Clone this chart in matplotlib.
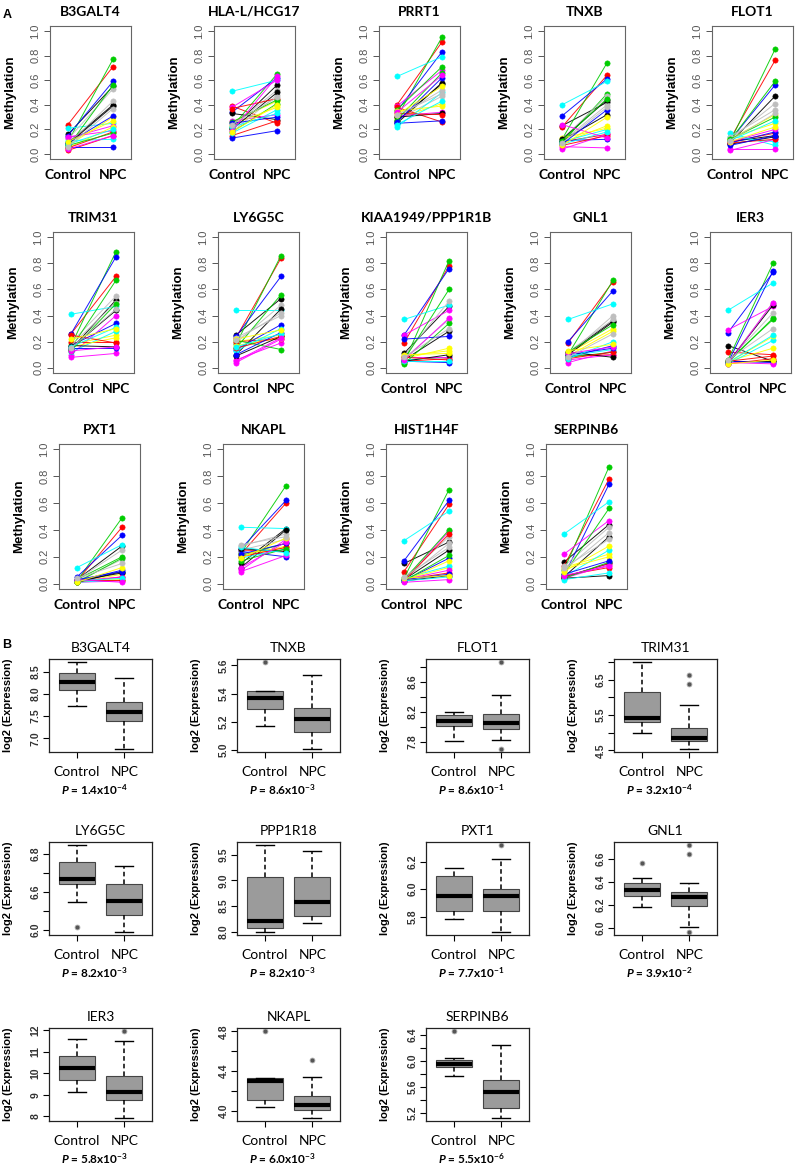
import matplotlib
matplotlib.use('Agg')
import matplotlib.pyplot as plt

plt.rcParams['mathtext.fontset'] = 'custom'
plt.rcParams['mathtext.rm'] = 'Lato:bold'
plt.rcParams['mathtext.it'] = 'Lato:italic:bold'

W, H = 796, 1164

# R default palette, cycled over the 24 samples
pal = ['black', '#FF0000', '#00CD00', '#0000FF', '#00FFFF', '#FF00FF', '#FFFF00', '#BEBEBE']
groups = ['Control', 'NPC']

# ---- panel A: methylation per sample (control, NPC) ----
b3galt4_ctrl = [0.16, 0.24, 0.10, 0.15, 0.21, 0.13, 0.07, 0.12, 0.09, 0.03, 0.06, 0.06, 0.11, 0.14, 0.05, 0.08, 0.08, 0.05, 0.07, 0.09, 0.08, 0.04, 0.10, 0.06]
b3galt4_npc = [0.55, 0.71, 0.77, 0.59, 0.25, 0.23, 0.30, 0.53, 0.40, 0.15, 0.56, 0.06, 0.12, 0.19, 0.22, 0.43, 0.39, 0.18, 0.17, 0.31, 0.20, 0.15, 0.27, 0.37]
hla_ctrl = [0.21, 0.39, 0.22, 0.34, 0.51, 0.38, 0.26, 0.22, 0.33, 0.15, 0.18, 0.13, 0.17, 0.27, 0.24, 0.18, 0.20, 0.37, 0.26, 0.25, 0.22, 0.19, 0.18, 0.24]
hla_npc = [0.56, 0.25, 0.65, 0.62, 0.60, 0.60, 0.43, 0.52, 0.28, 0.27, 0.41, 0.19, 0.36, 0.32, 0.38, 0.48, 0.50, 0.45, 0.44, 0.30, 0.33, 0.63, 0.40, 0.46]
prrt1_ctrl = [0.25, 0.40, 0.30, 0.35, 0.63, 0.39, 0.29, 0.28, 0.27, 0.38, 0.36, 0.25, 0.22, 0.31, 0.35, 0.30, 0.30, 0.33, 0.28, 0.26, 0.24, 0.34, 0.32, 0.32]
prrt1_npc = [0.58, 0.91, 0.95, 0.83, 0.79, 0.68, 0.41, 0.47, 0.57, 0.26, 0.71, 0.27, 0.50, 0.34, 0.39, 0.52, 0.33, 0.32, 0.66, 0.62, 0.43, 0.64, 0.55, 0.49]
tnxb_ctrl = [0.23, 0.22, 0.12, 0.31, 0.40, 0.06, 0.09, 0.10, 0.11, 0.10, 0.09, 0.11, 0.10, 0.04, 0.13, 0.12, 0.12, 0.07, 0.11, 0.08, 0.08, 0.24, 0.07, 0.09]
tnxb_npc = [0.42, 0.64, 0.74, 0.61, 0.59, 0.05, 0.23, 0.40, 0.32, 0.16, 0.49, 0.12, 0.20, 0.16, 0.21, 0.47, 0.44, 0.15, 0.45, 0.36, 0.18, 0.13, 0.30, 0.38]
flot1_ctrl = [0.09, 0.12, 0.10, 0.11, 0.17, 0.04, 0.13, 0.12, 0.10, 0.10, 0.11, 0.09, 0.14, 0.03, 0.12, 0.14, 0.08, 0.09, 0.12, 0.07, 0.11, 0.10, 0.10, 0.11]
flot1_npc = [0.47, 0.76, 0.85, 0.56, 0.07, 0.04, 0.25, 0.41, 0.15, 0.17, 0.59, 0.18, 0.10, 0.12, 0.32, 0.36, 0.14, 0.12, 0.30, 0.15, 0.27, 0.20, 0.22, 0.33]
trim31_ctrl = [0.14, 0.26, 0.17, 0.26, 0.41, 0.10, 0.18, 0.19, 0.15, 0.20, 0.15, 0.17, 0.12, 0.08, 0.16, 0.17, 0.17, 0.25, 0.13, 0.15, 0.16, 0.13, 0.22, 0.15]
trim31_npc = [0.52, 0.70, 0.89, 0.85, 0.47, 0.40, 0.25, 0.55, 0.44, 0.20, 0.67, 0.34, 0.28, 0.11, 0.23, 0.50, 0.16, 0.19, 0.49, 0.15, 0.31, 0.16, 0.30, 0.45]
ly6g5c_ctrl = [0.25, 0.23, 0.18, 0.24, 0.44, 0.06, 0.20, 0.19, 0.10, 0.20, 0.15, 0.14, 0.13, 0.04, 0.17, 0.23, 0.09, 0.15, 0.21, 0.10, 0.16, 0.05, 0.22, 0.21]
ly6g5c_npc = [0.53, 0.84, 0.86, 0.70, 0.44, 0.19, 0.25, 0.48, 0.45, 0.22, 0.56, 0.33, 0.30, 0.22, 0.23, 0.40, 0.24, 0.24, 0.14, 0.27, 0.26, 0.23, 0.29, 0.42]
kiaa_ctrl = [0.11, 0.19, 0.04, 0.25, 0.37, 0.25, 0.07, 0.09, 0.06, 0.05, 0.06, 0.05, 0.06, 0.08, 0.09, 0.07, 0.05, 0.08, 0.03, 0.22, 0.05, 0.06, 0.10, 0.08]
kiaa_npc = [0.47, 0.78, 0.82, 0.76, 0.48, 0.44, 0.15, 0.51, 0.28, 0.07, 0.60, 0.04, 0.08, 0.08, 0.13, 0.37, 0.10, 0.06, 0.34, 0.24, 0.05, 0.38, 0.11, 0.30]
gnl1_ctrl = [0.11, 0.19, 0.10, 0.20, 0.37, 0.04, 0.11, 0.10, 0.10, 0.09, 0.08, 0.08, 0.09, 0.06, 0.09, 0.12, 0.12, 0.07, 0.12, 0.10, 0.07, 0.11, 0.13, 0.08]
gnl1_npc = [0.36, 0.66, 0.67, 0.59, 0.49, 0.13, 0.30, 0.40, 0.35, 0.10, 0.12, 0.17, 0.14, 0.10, 0.28, 0.37, 0.08, 0.12, 0.33, 0.15, 0.20, 0.16, 0.18, 0.26]
ier3_ctrl = [0.17, 0.12, 0.06, 0.27, 0.44, 0.29, 0.05, 0.04, 0.05, 0.03, 0.04, 0.05, 0.03, 0.04, 0.04, 0.05, 0.04, 0.05, 0.05, 0.04, 0.04, 0.03, 0.03, 0.06]
ier3_npc = [0.05, 0.10, 0.80, 0.73, 0.65, 0.47, 0.15, 0.50, 0.05, 0.07, 0.38, 0.04, 0.21, 0.03, 0.24, 0.42, 0.48, 0.09, 0.37, 0.74, 0.25, 0.50, 0.06, 0.30]
pxt1_ctrl = [0.03, 0.02, 0.02, 0.05, 0.12, 0.01, 0.01, 0.03, 0.02, 0.01, 0.03, 0.02, 0.01, 0.02, 0.02, 0.02, 0.01, 0.03, 0.01, 0.03, 0.02, 0.03, 0.01, 0.04]
pxt1_npc = [0.28, 0.42, 0.49, 0.36, 0.29, 0.02, 0.07, 0.25, 0.08, 0.05, 0.20, 0.10, 0.03, 0.05, 0.03, 0.18, 0.09, 0.03, 0.19, 0.09, 0.04, 0.01, 0.12, 0.15]
nkapl_ctrl = [0.15, 0.22, 0.23, 0.26, 0.42, 0.10, 0.20, 0.28, 0.12, 0.25, 0.21, 0.24, 0.19, 0.09, 0.22, 0.25, 0.26, 0.20, 0.17, 0.22, 0.27, 0.12, 0.19, 0.29]
nkapl_npc = [0.41, 0.60, 0.73, 0.62, 0.41, 0.33, 0.28, 0.37, 0.40, 0.24, 0.30, 0.20, 0.26, 0.21, 0.27, 0.33, 0.24, 0.27, 0.26, 0.30, 0.23, 0.31, 0.34, 0.35]
hist1h4f_ctrl = [0.15, 0.09, 0.04, 0.17, 0.32, 0.02, 0.03, 0.04, 0.03, 0.03, 0.03, 0.02, 0.04, 0.03, 0.02, 0.03, 0.02, 0.02, 0.02, 0.03, 0.02, 0.01, 0.04, 0.05]
hist1h4f_npc = [0.31, 0.59, 0.70, 0.62, 0.54, 0.39, 0.12, 0.35, 0.25, 0.08, 0.40, 0.19, 0.13, 0.10, 0.17, 0.30, 0.06, 0.37, 0.21, 0.07, 0.05, 0.03, 0.06, 0.27]
serpinb6_ctrl = [0.16, 0.13, 0.10, 0.06, 0.37, 0.22, 0.12, 0.13, 0.05, 0.06, 0.07, 0.05, 0.05, 0.04, 0.11, 0.10, 0.04, 0.05, 0.04, 0.07, 0.03, 0.06, 0.09, 0.12]
serpinb6_npc = [0.44, 0.78, 0.87, 0.74, 0.61, 0.47, 0.22, 0.42, 0.35, 0.12, 0.56, 0.15, 0.25, 0.14, 0.20, 0.38, 0.06, 0.15, 0.16, 0.17, 0.08, 0.13, 0.28, 0.33]

meth_panels = [
    ('B3GALT4', b3galt4_ctrl, b3galt4_npc),
    ('HLA-L/HCG17', hla_ctrl, hla_npc),
    ('PRRT1', prrt1_ctrl, prrt1_npc),
    ('TNXB', tnxb_ctrl, tnxb_npc),
    ('FLOT1', flot1_ctrl, flot1_npc),
    ('TRIM31', trim31_ctrl, trim31_npc),
    ('LY6G5C', ly6g5c_ctrl, ly6g5c_npc),
    ('KIAA1949/PPP1R1B', kiaa_ctrl, kiaa_npc),
    ('GNL1', gnl1_ctrl, gnl1_npc),
    ('IER3', ier3_ctrl, ier3_npc),
    ('PXT1', pxt1_ctrl, pxt1_npc),
    ('NKAPL', nkapl_ctrl, nkapl_npc),
    ('HIST1H4F', hist1h4f_ctrl, hist1h4f_npc),
    ('SERPINB6', serpinb6_ctrl, serpinb6_npc),
]

# ---- panel B: expression boxplots [whislo, q1, med, q3, whishi] + outliers ----
expr_genes = ['B3GALT4', 'TNXB', 'FLOT1', 'TRIM31', 'LY6G5C', 'PPP1R18',
              'PXT1', 'GNL1', 'IER3', 'NKAPL', 'SERPINB6']
expr_ctrl = [
    [7.72, 8.08, 8.27, 8.48, 8.71],
    [5.17, 5.29, 5.37, 5.415, 5.42],
    [7.81, 8.015, 8.08, 8.16, 8.20],
    [5.00, 5.30, 5.41, 6.14, 6.99],
    [6.29, 6.48, 6.54, 6.71, 6.89],
    [8.00, 8.07, 8.21, 9.06, 9.68],
    [5.78, 5.84, 5.95, 6.10, 6.156],
    [6.18, 6.28, 6.33, 6.39, 6.43],
    [9.12, 9.67, 10.25, 10.79, 11.57],
    [4.04, 4.105, 4.295, 4.33, 4.33],
    [5.76, 5.90, 5.95, 6.01, 6.04],
]
expr_npc = [
    [6.77, 7.40, 7.60, 7.83, 8.37],
    [5.01, 5.13, 5.22, 5.30, 5.53],
    [7.82, 7.97, 8.05, 8.175, 8.43],
    [4.55, 4.75, 4.84, 5.14, 5.78],
    [5.98, 6.15, 6.30, 6.48, 6.67],
    [8.16, 8.31, 8.57, 9.06, 9.58],
    [5.69, 5.84, 5.95, 6.00, 6.22],
    [6.01, 6.19, 6.265, 6.31, 6.39],
    [7.95, 8.76, 9.13, 9.86, 11.52],
    [3.93, 4.01, 4.06, 4.15, 4.34],
    [5.13, 5.27, 5.52, 5.70, 6.24],
]
out_ctrl = [[], [5.62], [], [], [6.03], [], [], [6.565], [], [4.80], [6.45]]
out_npc = [[], [], [8.86, 7.71], [6.64, 6.39], [], [], [6.32], [6.715, 6.643, 5.97], [11.94], [4.51], []]
p_values = ['1.4x10$^{-4}$', '8.6x10$^{-3}$', '8.6x10$^{-1}$', '3.2x10$^{-4}$',
            '8.2x10$^{-3}$', '8.2x10$^{-3}$', '7.7x10$^{-1}$', '3.9x10$^{-2}$',
            '5.8x10$^{-3}$', '6.0x10$^{-3}$', '5.5x10$^{-6}$']
y_ticks = [
    ([7.0, 7.5, 8.0, 8.5], ['7.0', '7.5', '8.0', '8.5']),
    ([5.0, 5.2, 5.4, 5.6], ['5.0', '5.2', '5.4', '5.6']),
    ([7.8, 8.0, 8.2, 8.4, 8.6, 8.8], ['7.8', '', '8.2', '', '8.6', '']),
    ([4.5, 5.0, 5.5, 6.0, 6.5, 7.0], ['4.5', '', '5.5', '', '6.5', '']),
    ([6.0, 6.2, 6.4, 6.6, 6.8], ['6.0', '', '6.6', '', '6.8']),
    ([8.0, 8.5, 9.0, 9.5], ['8.0', '8.5', '9.0', '9.5']),
    ([5.8, 6.0, 6.2], ['5.8', '6.0', '6.2']),
    ([6.0, 6.2, 6.4, 6.6], ['6.0', '6.2', '6.4', '6.6']),
    ([8, 9, 10, 11, 12], ['8', '9', '10', '11', '12']),
    ([4.0, 4.2, 4.4, 4.6, 4.8], ['4.0', '', '4.4', '', '4.8']),
    ([5.2, 5.4, 5.6, 5.8, 6.0, 6.2, 6.4], ['5.2', '', '5.6', '', '6.0', '', '6.4']),
]

fig = plt.figure(figsize=(W / 100, H / 100), dpi=100)


def px_axes(left, top, w, h):
    return fig.add_axes([left / W, 1 - (top + h) / H, w / W, h / H])


def px_text(x, y, s, **kw):
    fig.text(x / W, 1 - y / H, s, **kw)


# layout of panel A in pixels
a_rows = [(26, 133, [68, 232, 397, 562, 730]),
          (232, 141, [71, 236, 404, 568, 728]),
          (444, 145, [77, 241, 404, 564])]
a_slots = [(r, c) for r in range(3) for c in range(len(a_rows[r][2]))]

for (name, ctrl, npc), (r, c) in zip(meth_panels, a_slots):
    top, h, cxs = a_rows[r]
    left = cxs[c] - 18
    ax = px_axes(left, top, 81, h)
    for i in range(len(ctrl)):
        col = pal[i % 8]
        ax.plot([1, 2], [ctrl[i], npc[i]], color=col, lw=0.7, alpha=0.9)
        ax.plot([1, 2], [ctrl[i], npc[i]], ls='none', marker='o', ms=3.8,
                mfc=col, mec=col, mew=0.4)
    ax.set_xlim(0.6, 2.4)
    ax.set_ylim(-0.04, 1.04)
    ax.set_xticks([1, 2], groups)
    ax.set_yticks([0, 0.2, 0.4, 0.6, 0.8, 1.0], ['0.0', '0.2', '0.4', '0.6', '0.8', '1.0'])
    ax.tick_params(axis='x', length=0, pad=7)
    ax.tick_params(axis='y', length=4, width=0.7, color='#555', pad=3)
    for lab in ax.get_xticklabels():
        lab.set_fontfamily('Lato')
        lab.set_fontweight('bold')
        lab.set_fontsize(10)
    for lab in ax.get_yticklabels():
        lab.set_fontfamily('Liberation Sans')
        lab.set_fontsize(8)
        lab.set_color('#555')
        lab.set_rotation(90)
        lab.set_va('center')
    for sp in ax.spines.values():
        sp.set_color('#666')
        sp.set_linewidth(0.8)
    ax.text(-40 / 81, 0.5, 'Methylation', transform=ax.transAxes, rotation=90,
            ha='center', va='center', fontsize=9.5, fontweight='bold',
            fontfamily='Liberation Sans')
    px_text(left + 40.5, top - 14, name, ha='center', va='center',
            fontsize=10, fontweight='bold', fontfamily='Lato')

px_text(3, 15, 'A', ha='left', va='center', fontsize=9, fontweight='bold',
        fontfamily='Liberation Sans')
px_text(2, 645, 'B', ha='left', va='center', fontsize=9, fontweight='bold',
        fontfamily='Liberation Sans')

# layout of panel B in pixels
b_tops = [659, 842, 1028]
b_lefts = [49, 237, 426, 614]

for k, gene in enumerate(expr_genes):
    r, c = divmod(k, 4)
    top, left = b_tops[r], b_lefts[c]
    ax = px_axes(left, top, 103, 93)
    stats = []
    for box, out in ((expr_ctrl[k], out_ctrl[k]), (expr_npc[k], out_npc[k])):
        stats.append(dict(whislo=box[0], q1=box[1], med=box[2], q3=box[3],
                          whishi=box[4], fliers=out))
    ax.bxp(stats, positions=[1, 2], widths=0.75, capwidths=0.38,
           patch_artist=True,
           boxprops=dict(facecolor='#9b9b9b', edgecolor='#444', lw=0.8),
           medianprops=dict(color='black', lw=3),
           whiskerprops=dict(color='black', lw=1.1, ls=(0, (3, 2))),
           capprops=dict(color='black', lw=1),
           flierprops=dict(marker='o', ms=3.5, mfc='#555', mec='#aaa', mew=0.6))
    vals = expr_ctrl[k] + expr_npc[k] + out_ctrl[k] + out_npc[k]
    lo, hi = min(vals), max(vals)
    pad = 0.04 * (hi - lo)
    ax.set_ylim(lo - pad, hi + pad)
    ax.set_xlim(0.42, 2.58)
    ticks, labels = y_ticks[k]
    ax.set_yticks(ticks, labels)
    ax.set_xticks([1, 2], groups)
    ax.tick_params(axis='x', length=4, width=0.8, pad=6)
    ax.tick_params(axis='y', length=4, width=0.8, pad=2)
    for lab in ax.get_xticklabels():
        lab.set_fontfamily('Lato')
        lab.set_fontsize(10)
    for lab in ax.get_yticklabels():
        lab.set_fontfamily('Liberation Sans')
        lab.set_fontsize(7.5)
        lab.set_fontweight('bold')
        lab.set_color('#333')
        lab.set_rotation(90)
        lab.set_va('center')
    for sp in ax.spines.values():
        sp.set_color('#222')
        sp.set_linewidth(0.9)
    ax.text(-41 / 103, 0.5, 'log2 (Expression)', transform=ax.transAxes, rotation=90,
            ha='center', va='center', fontsize=8, fontweight='bold',
            fontfamily='Liberation Sans')
    px_text(left + 51.5, top - 11, gene, ha='center', va='center',
            fontsize=10, fontfamily='Lato')
    px_text(left + 12, top + 131, '$P$ = ' + p_values[k], ha='left', va='center',
            fontsize=8.5, fontweight='bold', fontfamily='Lato')

fig.savefig('out.png', dpi=100)
